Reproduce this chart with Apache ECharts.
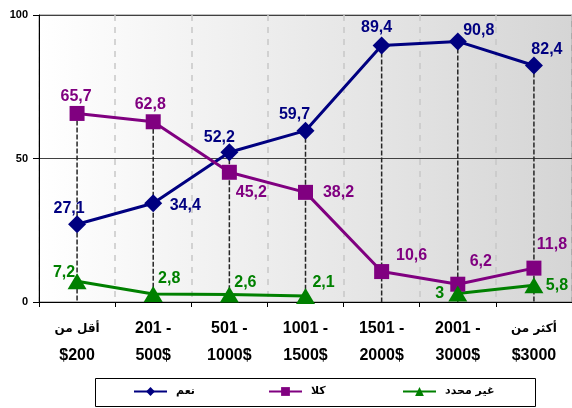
<!DOCTYPE html>
<html>
<head>
<meta charset="utf-8">
<script src="https://cdn.jsdelivr.net/npm/echarts@6/dist/echarts.min.js"></script>
<style>
html,body{margin:0;padding:0;background:#fff;}
#c{width:572px;height:408px;}
</style>
</head>
<body>
<div id="c"></div>
<script>
var categories = ['أقل من\n$200', '201 -\n500$', '501 -\n1000$', '1001 -\n1500$', '1501 -\n2000$', '2001 -\n3000$', 'أكثر من\n$3000'];
var seriesNames = ['نعم', 'كلا', 'غير محدد'];
var yesValues = [27.1, 34.4, 52.2, 59.7, 89.4, 90.8, 82.4];
var noValues = [65.7, 62.8, 45.2, 38.2, 10.6, 6.2, 11.8];
var unknownValues = [7.2, 2.8, 2.6, 2.1, null, 3, 5.8];
var yTicks = [0, 50, 100];

// label offsets (layout only)
var yesOffsets = [[-8,-16],[32,2],[-10,-15],[-11,-16],[-5,-18],[21,-11],[13,-16]];
var noOffsets = [[-1,-17],[-3,-17],[22,20],[33,0],[30,-16],[23,-23],[18,-24]];
var unkOffsets = [[-13,-9],[16,-15],[16,-12],[18,-13],[0,0],[-18,0],[23,0]];

var FONT = '"Liberation Sans", Arial, "DejaVu Sans", sans-serif';

function fmt(v){ return String(v).replace('.', ','); }

function buildData(vals, offs){
  return vals.map(function(v, i){
    if (v === null) return null;
    return {value: v, label: {offset: offs[i]}};
  });
}

var dropValues = categories.map(function(c, i){
  var arr = [yesValues[i], noValues[i], unknownValues[i]].filter(function(v){return v !== null;});
  return Math.max.apply(null, arr);
});

var arabicRe = /[\u0600-\u06FF]/;

var chart = echarts.init(document.getElementById('c'), null, {renderer:'canvas'});

function labelCfg(color){
  return {
    show: true, position: 'inside', color: color,
    fontFamily: FONT, fontWeight: 'bold', fontSize: 16,
    align: 'center', verticalAlign: 'middle',
    formatter: function(p){ return fmt(p.value); }
  };
}

var option = {
  animation: false,
  backgroundColor: '#ffffff',
  grid: {
    left: 39, top: 15, width: 536, height: 287,
    show: true,
    backgroundColor: new echarts.graphic.LinearGradient(0, 0, 1, 0, [
      {offset: 0, color: '#ffffff'},
      {offset: 1, color: '#d5d5d5'}
    ]),
    borderColor: '#808080', borderWidth: 1
  },
  legend: [0,1,2].map(function(k){
    return {
      data: [seriesNames[k]],
      left: [133, 268, 402][k], top: 386,
      itemWidth: 33, itemHeight: 11,
      padding: 0,
      textStyle: {fontFamily: '"DejaVu Sans", sans-serif', fontWeight: 'bold', fontSize: 11, color: '#000', padding: [0,0,0,4]}
    };
  }),
  graphic: [{
    type: 'rect', left: 95, top: 378, z: -1,
    shape: {width: 440, height: 28},
    style: {fill: '#fff', stroke: '#000', lineWidth: 1}
  }],
  xAxis: {
    type: 'category', data: categories, boundaryGap: true,
    axisLine: {show: true, lineStyle: {color: '#000', width: 1}},
    axisTick: {show: true, length: 5, lineStyle: {color: '#000'}},
    axisLabel: {
      interval: 0, margin: 13, color: '#000',
      formatter: function(v){
        return v.split('\n').map(function(s){
          return arabicRe.test(s) ? '{ar|' + s + '}' : '{n|' + s + '}';
        }).join('\n');
      },
      rich: {
        ar: {fontFamily: '"DejaVu Sans", sans-serif', fontWeight: 'bold', fontSize: 12, lineHeight: 27, color: '#000'},
        n: {fontFamily: FONT, fontWeight: 'bold', fontSize: 16, lineHeight: 27, color: '#000'}
      }
    },
    splitLine: {show: true, lineStyle: {color: '#c8c8c8', width: 1.5, type: [6, 6]}}
  },
  yAxis: {
    type: 'value', min: 0, max: 100, interval: 50,
    axisLine: {show: true, lineStyle: {color: '#000', width: 1}},
    axisTick: {show: true, length: 6, lineStyle: {color: '#000'}},
    axisLabel: {
      margin: 11, color: '#000', fontFamily: FONT, fontWeight: 'bold', fontSize: 11,
      formatter: function(v){ return yTicks.indexOf(v) >= 0 ? String(v) : ''; }
    },
    splitLine: {show: true, lineStyle: {color: '#404040', width: 1}}
  },
  series: [
    {
      type: 'custom', name: 'drop', z: 1, silent: true,
      data: dropValues.map(function(v, i){ return [i, v]; }),
      renderItem: function(params, api){
        var top = api.coord([api.value(0), api.value(1)]);
        var bot = api.coord([api.value(0), 0]);
        return {
          type: 'line',
          shape: {x1: top[0], y1: top[1], x2: bot[0], y2: bot[1]},
          style: {stroke: '#262626', lineWidth: 1.5, lineDash: [5, 2]}
        };
      }
    },
    {
      name: seriesNames[0], type: 'line', z: 3,
      data: buildData(yesValues, yesOffsets),
      symbol: 'diamond', symbolSize: 18,
      lineStyle: {color: '#000080', width: 3},
      itemStyle: {color: '#000080'},
      label: labelCfg('#000080')
    },
    {
      name: seriesNames[1], type: 'line', z: 3,
      data: buildData(noValues, noOffsets),
      symbol: 'rect', symbolSize: 15,
      lineStyle: {color: '#800080', width: 3},
      itemStyle: {color: '#800080'},
      label: labelCfg('#800080')
    },
    {
      name: seriesNames[2], type: 'line', z: 3,
      data: buildData(unknownValues, unkOffsets),
      connectNulls: false,
      symbol: 'triangle', symbolSize: [19, 16],
      lineStyle: {color: '#008000', width: 3},
      itemStyle: {color: '#008000'},
      label: labelCfg('#008000')
    }
  ]
};
chart.setOption(option);
</script>
</body>
</html>
